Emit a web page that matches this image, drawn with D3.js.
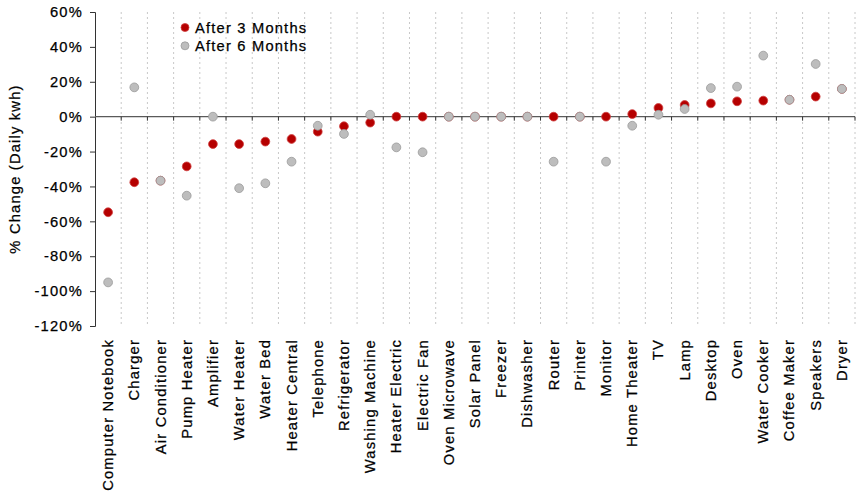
<!DOCTYPE html>
<html><head><meta charset="utf-8">
<script src="https://cdn.jsdelivr.net/npm/d3@7"></script>
<style>body{margin:0;background:#fff}svg{display:block}text{font-family:"Liberation Sans",Arial,sans-serif;fill:#000;stroke:#000;stroke-width:0.25px}</style>
</head><body>
<svg id="c" width="856" height="498"></svg>
<script>
const categories = ["Computer Notebook","Charger","Air Conditioner","Pump Heater","Amplifier","Water Heater","Water Bed","Heater Central","Telephone","Refrigerator","Washing Machine","Heater Electric","Electric Fan","Oven Microwave","Solar Panel","Freezer","Dishwasher","Router","Printer","Monitor","Home Theater","TV","Lamp","Desktop","Oven","Water Cooker","Coffee Maker","Speakers","Dryer"];
const after3 = [-54.8,-37.6,-36.7,-28.5,-15.7,-15.7,-14.3,-12.8,-8.6,-5.5,-3.4,0,0,0,0,0,0,0,0,0,1.5,5.0,6.7,7.6,8.8,9.2,9.7,11.5,15.9];
const after6 = [-95,16.8,-36.7,-45.3,0,-41,-38.2,-25.8,-5.2,-9.9,1.1,-17.6,-20.4,0,0,0,0,-25.8,0,-25.8,-5.2,1.1,4.4,16.4,17.2,35,9.7,30.2,15.9];
const yTicks = [60,40,20,0,-20,-40,-60,-80,-100,-120];
const seriesNames = ["After 3 Months","After 6 Months"];

const svg = d3.select("#c");
const pL = 95, pR = 855, pT = 12, pB = 326;
const FS = 14.7, LS = 1.2;
const x = d3.scaleBand().domain(categories).range([pL, pR]);
const y = d3.scaleLinear().domain([-120, 60]).range([pB, pT]);

// dotted vertical grid at category boundaries
const bounds = categories.map(c => x(c) + x.bandwidth());
svg.append("g").selectAll("line").data(bounds).join("line")
  .attr("x1", d=>d).attr("x2", d=>d).attr("y1", pT).attr("y2", pB)
  .attr("stroke", "#c8c8c8").attr("stroke-width", 1).attr("stroke-dasharray", "2,3");

// y axis
const ya = svg.append("g").attr("transform", `translate(${pL},0)`)
  .call(d3.axisLeft(y).tickValues(yTicks).tickFormat(d=>d+"%").tickSize(5).tickPadding(7));
ya.select(".domain").attr("stroke", "#333");
ya.selectAll(".tick line").attr("stroke", "#333");
ya.selectAll("text").attr("font-size", FS).attr("letter-spacing", LS)
  .attr("font-family", '"Liberation Sans",Arial,sans-serif').attr("fill","#000");

// zero line with ticks
svg.append("line").attr("x1", pL).attr("x2", pR).attr("y1", y(0)).attr("y2", y(0))
  .attr("stroke", "#5a5a5a").attr("stroke-width", 1.3);
svg.append("g").selectAll("line").data(bounds).join("line")
  .attr("x1", d=>d).attr("x2", d=>d).attr("y1", y(0)).attr("y2", y(0)+4)
  .attr("stroke", "#333");

// x labels
svg.append("g").selectAll("text").data(categories).join("text")
  .attr("transform", d=>`translate(${x(d)+x.bandwidth()/2+5},${339}) rotate(-90)`)
  .attr("text-anchor", "end").attr("font-size", FS).attr("letter-spacing", LS).text(d=>d);

// y title
svg.append("text").attr("transform", "translate(20,169) rotate(-90)")
  .attr("text-anchor", "middle").attr("font-size", FS).attr("letter-spacing", LS).text("% Change (Daily kwh)");

// points
const cx = d => x(d) + x.bandwidth()/2;
svg.append("g").selectAll("circle").data(categories).join("circle")
  .attr("cx", cx).attr("cy", (d,i)=>y(after3[i])).attr("r", 4.4)
  .attr("fill", "#b50000").attr("stroke", "#d04040").attr("stroke-width", 0.8);
svg.append("g").selectAll("circle").data(categories).join("circle")
  .attr("cx", cx).attr("cy", (d,i)=>y(after6[i])).attr("r", 4.4)
  .attr("fill", "#bdbdbd").attr("stroke", "#9a9a9a").attr("stroke-width", 0.8);

// legend
const lg = svg.append("g");
const lc = [["#b50000","#d04040"],["#bdbdbd","#9a9a9a"]];
seriesNames.forEach((n,i)=>{
  lg.append("circle").attr("cx",185).attr("cy",27.5+i*18.3).attr("r",4).attr("fill",lc[i][0]).attr("stroke",lc[i][1]).attr("stroke-width",0.8);
  lg.append("text").attr("x",195).attr("y",32.7+i*18.3).attr("font-size",FS).attr("letter-spacing", LS).text(n);
});
</script>
</body></html>
